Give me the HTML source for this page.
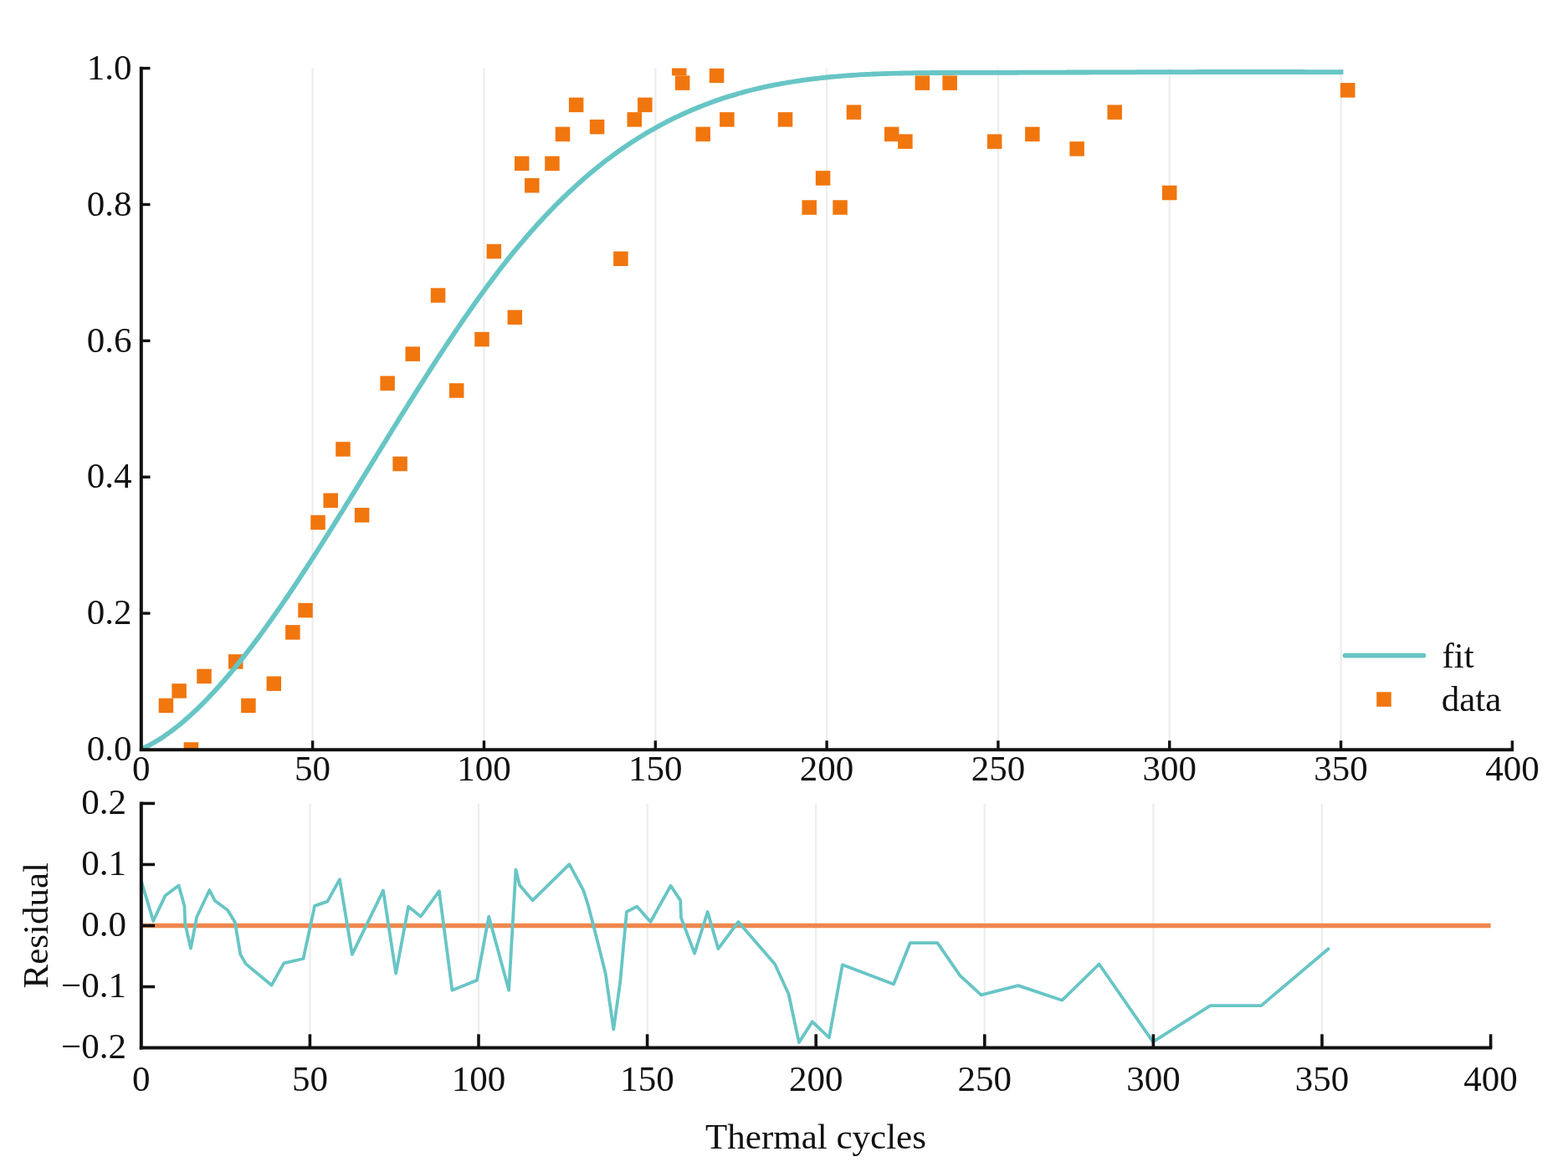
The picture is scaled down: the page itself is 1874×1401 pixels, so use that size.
<!DOCTYPE html>
<html lang="en"><head><meta charset="utf-8"><title>Fit and residual vs thermal cycles</title>
<style>
html,body{margin:0;padding:0;background:#fff;}
body{width:1874px;height:1401px;overflow:hidden;}
svg{display:block;}
</style></head><body>
<svg width="1874" height="1401" viewBox="0 0 1874 1401">
<rect width="1874" height="1401" fill="#ffffff"/>
<defs>
<clipPath id="ct"><rect x="168.8" y="81.6" width="1648.6000000000001" height="814.4"/></clipPath>
<clipPath id="cb"><rect x="168.8" y="960.4" width="1612.8" height="292.19999999999993"/></clipPath>
</defs>
<g stroke="#eeeeee" stroke-width="2.4">
<line x1="373.62" y1="81.6" x2="373.62" y2="896.0"/>
<line x1="578.45" y1="81.6" x2="578.45" y2="896.0"/>
<line x1="783.28" y1="81.6" x2="783.28" y2="896.0"/>
<line x1="988.10" y1="81.6" x2="988.10" y2="896.0"/>
<line x1="1192.93" y1="81.6" x2="1192.93" y2="896.0"/>
<line x1="1397.75" y1="81.6" x2="1397.75" y2="896.0"/>
<line x1="1602.58" y1="81.6" x2="1602.58" y2="896.0"/>
</g>
<g fill="#f1760e" clip-path="url(#ct)">
<rect x="189.67" y="834.71" width="17.5" height="17.5"/>
<rect x="205.36" y="817.19" width="17.5" height="17.5"/>
<rect x="219.65" y="887.25" width="17.5" height="17.5"/>
<rect x="235.26" y="799.68" width="17.5" height="17.5"/>
<rect x="272.95" y="782.17" width="17.5" height="17.5"/>
<rect x="288.15" y="834.71" width="17.5" height="17.5"/>
<rect x="318.58" y="808.44" width="17.5" height="17.5"/>
<rect x="341.12" y="747.14" width="17.5" height="17.5"/>
<rect x="356.27" y="720.87" width="17.5" height="17.5"/>
<rect x="371.27" y="615.78" width="17.5" height="17.5"/>
<rect x="386.46" y="589.51" width="17.5" height="17.5"/>
<rect x="401.21" y="528.21" width="17.5" height="17.5"/>
<rect x="423.86" y="607.03" width="17.5" height="17.5"/>
<rect x="454.38" y="449.40" width="17.5" height="17.5"/>
<rect x="469.34" y="545.73" width="17.5" height="17.5"/>
<rect x="484.49" y="414.37" width="17.5" height="17.5"/>
<rect x="514.81" y="344.32" width="17.5" height="17.5"/>
<rect x="536.93" y="458.16" width="17.5" height="17.5"/>
<rect x="567.24" y="396.86" width="17.5" height="17.5"/>
<rect x="581.58" y="291.77" width="17.5" height="17.5"/>
<rect x="606.57" y="370.59" width="17.5" height="17.5"/>
<rect x="614.97" y="186.69" width="17.5" height="17.5"/>
<rect x="627.05" y="212.96" width="17.5" height="17.5"/>
<rect x="651.22" y="186.69" width="17.5" height="17.5"/>
<rect x="663.76" y="151.66" width="17.5" height="17.5"/>
<rect x="679.90" y="116.63" width="17.5" height="17.5"/>
<rect x="704.88" y="142.91" width="17.5" height="17.5"/>
<rect x="733.15" y="300.53" width="17.5" height="17.5"/>
<rect x="749.54" y="134.15" width="17.5" height="17.5"/>
<rect x="762.07" y="116.63" width="17.5" height="17.5"/>
<rect x="803.04" y="72.85" width="17.5" height="17.5"/>
<rect x="806.89" y="90.36" width="17.5" height="17.5"/>
<rect x="831.47" y="151.66" width="17.5" height="17.5"/>
<rect x="847.85" y="81.61" width="17.5" height="17.5"/>
<rect x="860.14" y="134.15" width="17.5" height="17.5"/>
<rect x="929.78" y="134.15" width="17.5" height="17.5"/>
<rect x="958.46" y="239.23" width="17.5" height="17.5"/>
<rect x="974.84" y="204.20" width="17.5" height="17.5"/>
<rect x="995.33" y="239.23" width="17.5" height="17.5"/>
<rect x="1011.71" y="125.39" width="17.5" height="17.5"/>
<rect x="1056.98" y="151.66" width="17.5" height="17.5"/>
<rect x="1073.16" y="160.42" width="17.5" height="17.5"/>
<rect x="1093.64" y="90.36" width="17.5" height="17.5"/>
<rect x="1126.41" y="90.36" width="17.5" height="17.5"/>
<rect x="1179.91" y="160.42" width="17.5" height="17.5"/>
<rect x="1225.14" y="151.66" width="17.5" height="17.5"/>
<rect x="1278.39" y="169.18" width="17.5" height="17.5"/>
<rect x="1323.46" y="125.39" width="17.5" height="17.5"/>
<rect x="1389.00" y="221.72" width="17.5" height="17.5"/>
<rect x="1602.02" y="99.12" width="17.5" height="17.5"/>
</g>
<polyline points="168.8,895.6 171.8,894.2 174.8,892.7 177.8,891.2 180.8,889.5 183.8,887.8 186.8,886.0 189.8,884.2 192.8,882.3 195.8,880.3 198.8,878.2 201.8,876.1 204.8,873.9 207.8,871.6 210.8,869.3 213.8,866.9 216.8,864.4 219.8,861.9 222.8,859.3 225.8,856.6 228.8,853.9 231.8,851.2 234.8,848.3 237.8,845.4 240.8,842.5 243.8,839.5 246.8,836.4 249.8,833.3 252.8,830.1 255.8,826.9 258.8,823.6 261.8,820.3 264.8,816.9 267.8,813.5 270.8,810.0 273.8,806.5 276.8,802.9 279.8,799.3 282.8,795.6 285.8,791.9 288.8,788.2 291.8,784.4 294.8,780.5 297.8,776.6 300.8,772.7 303.8,768.8 306.8,764.7 309.8,760.7 312.8,756.6 315.8,752.5 318.8,748.4 321.8,744.2 324.8,740.0 327.8,735.7 330.8,731.4 333.8,727.1 336.8,722.8 339.8,718.4 342.8,714.0 345.8,709.6 348.8,705.1 351.8,700.6 354.8,696.1 357.8,691.6 360.8,687.0 363.8,682.4 366.8,677.8 369.8,673.2 372.8,668.5 375.8,663.9 378.8,659.2 381.8,654.5 384.8,649.8 387.8,645.0 390.8,640.3 393.8,635.5 396.8,630.7 399.8,625.9 402.8,621.1 405.8,616.3 408.8,611.5 411.8,606.7 414.8,601.8 417.8,597.0 420.8,592.1 423.8,587.2 426.8,582.4 429.8,577.5 432.8,572.6 435.8,567.7 438.8,562.9 441.8,558.0 444.8,553.1 447.8,548.2 450.8,543.3 453.8,538.5 456.8,533.6 459.8,528.7 462.8,523.9 465.8,519.0 468.8,514.1 471.8,509.3 474.8,504.5 477.8,499.6 480.8,494.8 483.8,490.0 486.8,485.2 489.8,480.4 492.8,475.6 495.8,470.9 498.8,466.1 501.8,461.4 504.8,456.7 507.8,452.0 510.8,447.3 513.8,442.6 516.8,437.9 519.8,433.3 522.8,428.7 525.8,424.1 528.8,419.5 531.8,415.0 534.8,410.4 537.8,405.9 540.8,401.4 543.8,397.0 546.8,392.5 549.8,388.1 552.8,383.7 555.8,379.4 558.8,375.1 561.8,370.8 564.8,366.5 567.8,362.2 570.8,358.0 573.8,353.9 576.8,349.7 579.8,345.6 582.8,341.5 585.8,337.5 588.8,333.5 591.8,329.5 594.8,325.5 597.8,321.6 600.8,317.8 603.8,313.9 606.8,310.2 609.8,306.4 612.8,302.7 615.8,299.0 618.8,295.4 621.8,291.8 624.8,288.3 627.8,284.8 630.8,281.3 633.8,277.8 636.8,274.5 639.8,271.1 642.8,267.8 645.8,264.5 648.8,261.3 651.8,258.1 654.8,254.9 657.8,251.8 660.8,248.7 663.8,245.6 666.8,242.6 669.8,239.6 672.8,236.7 675.8,233.8 678.8,230.9 681.8,228.1 684.8,225.3 687.8,222.6 690.8,219.8 693.8,217.2 696.8,214.5 699.8,211.9 702.8,209.3 705.8,206.8 708.8,204.3 711.8,201.8 714.8,199.4 717.8,197.0 720.8,194.6 723.8,192.3 726.8,190.0 729.8,187.8 732.8,185.5 735.8,183.3 738.8,181.2 741.8,179.1 744.8,177.0 747.8,174.9 750.8,172.9 753.8,170.9 756.8,168.9 759.8,167.0 762.8,165.1 765.8,163.2 768.8,161.4 771.8,159.6 774.8,157.8 777.8,156.1 780.8,154.4 783.8,152.7 786.8,151.0 789.8,149.4 792.8,147.8 795.8,146.2 798.8,144.7 801.8,143.2 804.8,141.7 807.8,140.2 810.8,138.8 813.8,137.4 816.8,136.0 819.8,134.6 822.8,133.3 825.8,132.0 828.8,130.7 831.8,129.5 834.8,128.3 837.8,127.1 840.8,125.9 843.8,124.7 846.8,123.6 849.8,122.5 852.8,121.4 855.8,120.3 858.8,119.3 861.8,118.3 864.8,117.3 867.8,116.3 870.8,115.4 873.8,114.5 876.8,113.6 879.8,112.7 882.8,111.8 885.8,111.0 888.8,110.1 891.8,109.3 894.8,108.5 897.8,107.8 900.8,107.0 903.8,106.3 906.8,105.6 909.8,104.9 912.8,104.2 915.8,103.6 918.8,102.9 921.8,102.3 924.8,101.7 927.8,101.1 930.8,100.6 933.8,100.0 936.8,99.5 939.8,99.0 942.8,98.4 945.8,98.0 948.8,97.5 951.8,97.0 954.8,96.6 957.8,96.1 960.8,95.7 963.8,95.3 966.8,94.9 969.8,94.5 972.8,94.2 975.8,93.8 978.8,93.5 981.8,93.1 984.8,92.8 987.8,92.5 990.8,92.2 993.8,91.9 996.8,91.6 999.8,91.4 1002.8,91.1 1005.8,90.9 1008.8,90.6 1011.8,90.4 1014.8,90.2 1017.8,90.0 1020.8,89.8 1023.8,89.6 1026.8,89.4 1029.8,89.2 1032.8,89.1 1035.8,88.9 1038.8,88.8 1041.8,88.6 1044.8,88.5 1047.8,88.4 1050.8,88.3 1053.8,88.2 1056.8,88.1 1059.8,88.0 1062.8,87.9 1065.8,87.8 1068.8,87.7 1071.8,87.6 1074.8,87.6 1077.8,87.5 1080.8,87.4 1083.8,87.4 1086.8,87.3 1089.8,87.3 1092.8,87.2 1095.8,87.2 1098.8,87.2 1101.8,87.1 1104.8,87.1 1107.8,87.1 1110.8,87.1 1113.8,87.0 1116.8,87.0 1119.8,87.0 1122.8,87.0 1125.8,87.0 1128.8,87.0 1131.8,87.0 1134.8,87.0 1137.8,87.0 1140.8,86.9 1143.8,86.9 1146.8,86.9 1149.8,86.9 1152.8,86.9 1155.8,86.9 1158.8,86.9 1161.8,86.9 1164.8,86.9 1167.8,86.9 1170.8,86.9 1173.8,86.9 1176.8,86.9 1179.8,86.9 1182.8,86.9 1185.8,86.8 1188.8,86.8 1191.8,86.8 1194.8,86.8 1197.8,86.8 1200.8,86.8 1203.8,86.8 1206.8,86.8 1209.8,86.8 1212.8,86.8 1215.8,86.8 1218.8,86.7 1221.8,86.7 1224.8,86.7 1227.8,86.7 1230.8,86.7 1233.8,86.7 1236.8,86.7 1239.8,86.7 1242.8,86.7 1245.8,86.7 1248.8,86.6 1251.8,86.6 1254.8,86.6 1257.8,86.6 1260.8,86.6 1263.8,86.6 1266.8,86.6 1269.8,86.6 1272.8,86.6 1275.8,86.5 1278.8,86.5 1281.8,86.5 1284.8,86.5 1287.8,86.5 1290.8,86.5 1293.8,86.5 1296.8,86.5 1299.8,86.5 1302.8,86.4 1305.8,86.4 1308.8,86.4 1311.8,86.4 1314.8,86.4 1317.8,86.4 1320.8,86.4 1323.8,86.4 1326.8,86.4 1329.8,86.3 1332.8,86.3 1335.8,86.3 1338.8,86.3 1341.8,86.3 1344.8,86.3 1347.8,86.3 1350.8,86.3 1353.8,86.3 1356.8,86.3 1359.8,86.2 1362.8,86.2 1365.8,86.2 1368.8,86.2 1371.8,86.2 1374.8,86.2 1377.8,86.2 1380.8,86.2 1383.8,86.2 1386.8,86.2 1389.8,86.2 1392.8,86.1 1395.8,86.1 1398.8,86.1 1401.8,86.1 1404.8,86.1 1407.8,86.1 1410.8,86.1 1413.8,86.1 1416.8,86.1 1419.8,86.1 1422.8,86.1 1425.8,86.1 1428.8,86.1 1431.8,86.0 1434.8,86.0 1437.8,86.0 1440.8,86.0 1443.8,86.0 1446.8,86.0 1449.8,86.0 1452.8,86.0 1455.8,86.0 1458.8,86.0 1461.8,86.0 1464.8,86.0 1467.8,86.0 1470.8,86.0 1473.8,86.0 1476.8,86.0 1479.8,86.0 1482.8,86.0 1485.8,86.0 1488.8,86.0 1491.8,86.0 1494.8,86.0 1497.8,86.0 1500.8,86.0 1503.8,86.0 1506.8,86.0 1509.8,86.0 1512.8,86.0 1515.8,86.0 1518.8,86.0 1521.8,86.0 1524.8,86.0 1527.8,86.0 1530.8,86.0 1533.8,86.0 1536.8,86.0 1539.8,86.0 1542.8,86.0 1545.8,86.0 1548.8,86.0 1551.8,86.0 1554.8,86.0 1557.8,86.0 1560.8,86.1 1563.8,86.1 1566.8,86.1 1569.8,86.1 1572.8,86.1 1575.8,86.1 1578.8,86.1 1581.8,86.1 1584.8,86.1 1587.8,86.1 1590.8,86.2 1593.8,86.2 1596.8,86.2 1599.8,86.2 1602.6,86.2" fill="none" stroke="#68c5c5" stroke-width="5.8" stroke-linejoin="round" stroke-linecap="square" clip-path="url(#ct)"/>
<g stroke="#111111" fill="none">
<path d="M168.8 79.8 V898.0 " stroke-width="4.0"/>
<path d="M166.8 896.2 H1809.1000000000001" stroke-width="4.0"/>
<line x1="373.62" y1="896.0" x2="373.62" y2="885.3" stroke-width="3.4"/>
<line x1="578.45" y1="896.0" x2="578.45" y2="885.3" stroke-width="3.4"/>
<line x1="783.28" y1="896.0" x2="783.28" y2="885.3" stroke-width="3.4"/>
<line x1="988.10" y1="896.0" x2="988.10" y2="885.3" stroke-width="3.4"/>
<line x1="1192.93" y1="896.0" x2="1192.93" y2="885.3" stroke-width="3.4"/>
<line x1="1397.75" y1="896.0" x2="1397.75" y2="885.3" stroke-width="3.4"/>
<line x1="1602.58" y1="896.0" x2="1602.58" y2="885.3" stroke-width="3.4"/>
<line x1="1807.40" y1="896.0" x2="1807.40" y2="885.3" stroke-width="3.4"/>
<line x1="168.8" y1="733.12" x2="179.5" y2="733.12" stroke-width="3.4"/>
<line x1="168.8" y1="570.24" x2="179.5" y2="570.24" stroke-width="3.4"/>
<line x1="168.8" y1="407.36" x2="179.5" y2="407.36" stroke-width="3.4"/>
<line x1="168.8" y1="244.48" x2="179.5" y2="244.48" stroke-width="3.4"/>
<line x1="168.8" y1="81.60" x2="179.5" y2="81.60" stroke-width="3.4"/>
</g>
<g font-family='"Liberation Serif", "DejaVu Serif", serif' font-size="43.0" fill="#111111">
<text x="157.6" y="909.20" text-anchor="end">0.0</text>
<text x="157.6" y="746.32" text-anchor="end">0.2</text>
<text x="157.6" y="583.44" text-anchor="end">0.4</text>
<text x="157.6" y="420.56" text-anchor="end">0.6</text>
<text x="157.6" y="257.68" text-anchor="end">0.8</text>
<text x="157.6" y="94.80" text-anchor="end">1.0</text>
<text x="168.80" y="932.8" text-anchor="middle">0</text>
<text x="373.62" y="932.8" text-anchor="middle">50</text>
<text x="578.45" y="932.8" text-anchor="middle">100</text>
<text x="783.28" y="932.8" text-anchor="middle">150</text>
<text x="988.10" y="932.8" text-anchor="middle">200</text>
<text x="1192.93" y="932.8" text-anchor="middle">250</text>
<text x="1397.75" y="932.8" text-anchor="middle">300</text>
<text x="1602.58" y="932.8" text-anchor="middle">350</text>
<text x="1807.40" y="932.8" text-anchor="middle">400</text>
<text x="1723.5" y="798.4">fit</text>
<text x="1722.7" y="849.6">data</text>
</g>
<line x1="1607.5" y1="783.6" x2="1701.5" y2="783.6" stroke="#68c5c5" stroke-width="5.8" stroke-linecap="round"/>
<rect x="1645.25" y="827.25" width="17.5" height="17.5" fill="#f1760e"/>
<g stroke="#eeeeee" stroke-width="2.4">
<line x1="370.40" y1="960.4" x2="370.40" y2="1252.6"/>
<line x1="572.00" y1="960.4" x2="572.00" y2="1252.6"/>
<line x1="773.60" y1="960.4" x2="773.60" y2="1252.6"/>
<line x1="975.20" y1="960.4" x2="975.20" y2="1252.6"/>
<line x1="1176.80" y1="960.4" x2="1176.80" y2="1252.6"/>
<line x1="1378.40" y1="960.4" x2="1378.40" y2="1252.6"/>
<line x1="1580.00" y1="960.4" x2="1580.00" y2="1252.6"/>
</g>
<line x1="168.8" y1="1106.50" x2="1781.6" y2="1106.50" stroke="#ef874d" stroke-width="5.6"/>
<polyline points="168.8,1053.0 183.2,1100.9 197.6,1070.4 213.6,1058.4 220.5,1083.2 221.2,1104.0 228.0,1133.7 235.2,1096.0 250.4,1064.0 256.9,1076.8 272.1,1088.0 280.9,1102.5 287.3,1140.9 293.7,1152.1 324.6,1177.7 339.3,1151.3 362.5,1146.0 376.1,1082.9 391.3,1077.6 406.0,1051.2 420.9,1140.9 458.0,1064.6 473.2,1163.7 488.1,1083.6 502.8,1095.6 524.9,1065.2 540.4,1183.7 570.1,1171.7 584.2,1095.6 608.2,1183.7 616.5,1039.6 621.0,1058.0 636.5,1076.4 680.5,1033.2 697.3,1064.4 702.9,1082.0 712.5,1118.9 723.7,1163.7 733.3,1230.6 741.2,1174.1 748.9,1090.0 761.2,1083.6 777.5,1102.0 801.6,1058.8 813.2,1076.4 814.0,1097.2 830.1,1139.7 845.7,1090.0 858.4,1134.1 882.4,1102.0 926.1,1152.5 942.6,1188.5 954.9,1246.1 970.9,1221.3 990.9,1240.5 1006.8,1153.3 1068.0,1176.5 1087.7,1127.2 1120.4,1127.2 1147.3,1166.1 1172.6,1189.3 1216.9,1178.1 1269.4,1195.7 1313.6,1152.5 1378.0,1245.3 1446.5,1202.1 1507.3,1202.1 1588.8,1133.3" fill="none" stroke="#68c5c5" stroke-width="3.8" stroke-linejoin="round" stroke-linecap="butt" clip-path="url(#cb)"/>
<g stroke="#111111" fill="none">
<path d="M168.8 958.6 V1254.6" stroke-width="4.0"/>
<path d="M166.8 1252.6 H1783.3" stroke-width="4.0"/>
<line x1="370.40" y1="1252.6" x2="370.40" y2="1236.3" stroke-width="3.6"/>
<line x1="572.00" y1="1252.6" x2="572.00" y2="1236.3" stroke-width="3.6"/>
<line x1="773.60" y1="1252.6" x2="773.60" y2="1236.3" stroke-width="3.6"/>
<line x1="975.20" y1="1252.6" x2="975.20" y2="1236.3" stroke-width="3.6"/>
<line x1="1176.80" y1="1252.6" x2="1176.80" y2="1236.3" stroke-width="3.6"/>
<line x1="1378.40" y1="1252.6" x2="1378.40" y2="1236.3" stroke-width="3.6"/>
<line x1="1580.00" y1="1252.6" x2="1580.00" y2="1236.3" stroke-width="3.6"/>
<line x1="1781.60" y1="1252.6" x2="1781.60" y2="1236.3" stroke-width="3.6"/>
<line x1="168.8" y1="1179.55" x2="185.10000000000002" y2="1179.55" stroke-width="3.6"/>
<line x1="168.8" y1="1106.50" x2="185.10000000000002" y2="1106.50" stroke-width="3.6"/>
<line x1="168.8" y1="1033.45" x2="185.10000000000002" y2="1033.45" stroke-width="3.6"/>
<line x1="168.8" y1="960.40" x2="185.10000000000002" y2="960.40" stroke-width="3.6"/>
</g>
<g font-family='"Liberation Serif", "DejaVu Serif", serif' font-size="43.0" fill="#111111">
<text x="150.9" y="1265.20" text-anchor="end">−0.2</text>
<text x="150.9" y="1192.15" text-anchor="end">−0.1</text>
<text x="150.9" y="1119.10" text-anchor="end">0.0</text>
<text x="150.9" y="1046.05" text-anchor="end">0.1</text>
<text x="150.9" y="973.00" text-anchor="end">0.2</text>
<text x="168.80" y="1304.0" text-anchor="middle">0</text>
<text x="370.40" y="1304.0" text-anchor="middle">50</text>
<text x="572.00" y="1304.0" text-anchor="middle">100</text>
<text x="773.60" y="1304.0" text-anchor="middle">150</text>
<text x="975.20" y="1304.0" text-anchor="middle">200</text>
<text x="1176.80" y="1304.0" text-anchor="middle">250</text>
<text x="1378.40" y="1304.0" text-anchor="middle">300</text>
<text x="1580.00" y="1304.0" text-anchor="middle">350</text>
<text x="1781.60" y="1304.0" text-anchor="middle">400</text>
<text x="975" y="1373" text-anchor="middle">Thermal cycles</text>
<text transform="translate(56.7 1106.3) rotate(-90)" text-anchor="middle">Residual</text>
</g>
</svg>
</body></html>
